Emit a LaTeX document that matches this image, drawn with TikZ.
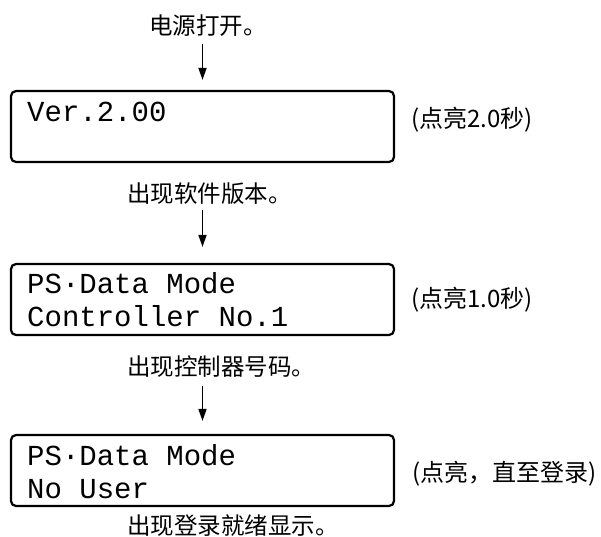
\documentclass[tikz,border=0pt]{standalone}
\usepackage{fontspec}
\setmainfont{Liberation Serif}
\newfontfamily\cjk{Noto Sans CJK SC}
\newfontfamily\lcd{Liberation Mono}
\usetikzlibrary{arrows.meta}
\tikzset{
  lcdbox/.style={draw, line width=2.2pt, rounded corners=5pt, minimum width=383pt, minimum height=71pt, inner sep=0pt},
  lcdtxt/.style={anchor=base west, inner sep=0pt, font=\lcd\fontsize{29}{33}\selectfont},
  captxt/.style={anchor=base west, inner sep=0pt, font=\cjk\fontsize{23.5}{26}\selectfont},
  sidetxt/.style={anchor=base west, inner sep=0pt, font=\cjk\fontsize{24}{26}\selectfont},
  arr/.style={line width=1.6pt, -{Triangle[length=12pt, width=8pt]}}
}
\begin{document}
\begin{tikzpicture}[x=1pt, y=-1pt]
\useasboundingbox (0,0) rectangle (601,536);
% captions
\node[captxt] (t0) at (149,34) {电源打开。};
\node[captxt] (t1) at (127,202) {出现软件版本。};
\node[captxt] (t2) at (127,375) {出现控制器号码。};
\node[captxt] (t3) at (127,534) {出现登录就绪显示。};
% boxes
\node[lcdbox] (b1) at (202.5,126.5) {};
\node[lcdbox] (b2) at (202.5,299.5) {};
\node[lcdbox] (b3) at (202.5,470.5) {};
% box texts
\node[lcdtxt] (l1a) at (27,121) {Ver.2.00};
\node[lcdtxt] (l2a) at (27,293) {PS·Data Mode};
\node[lcdtxt] (l2b) at (27,326) {Controller No.1};
\node[lcdtxt] (l3a) at (27,465) {PS·Data Mode};
\node[lcdtxt] (l3b) at (27,498) {No User};
% side notes
\node[sidetxt] (s1) at (411,127) {(点亮2.0秒)};
\node[sidetxt] (s2) at (411,307) {(点亮1.0秒)};
\node[sidetxt] (s3) at (412,481) {(点亮，直至登录)};
% arrows
\coordinate (a0) at (202.5,44);
\coordinate (a1) at (202.5,210);
\coordinate (a2) at (202.5,386);
\draw[arr] (a0) -- ([yshift=10pt]b1.north);
\draw[arr] (a1) -- ([yshift=16pt]b2.north);
\draw[arr] (a2) -- ([yshift=13pt]b3.north);
\end{tikzpicture}
\end{document}
